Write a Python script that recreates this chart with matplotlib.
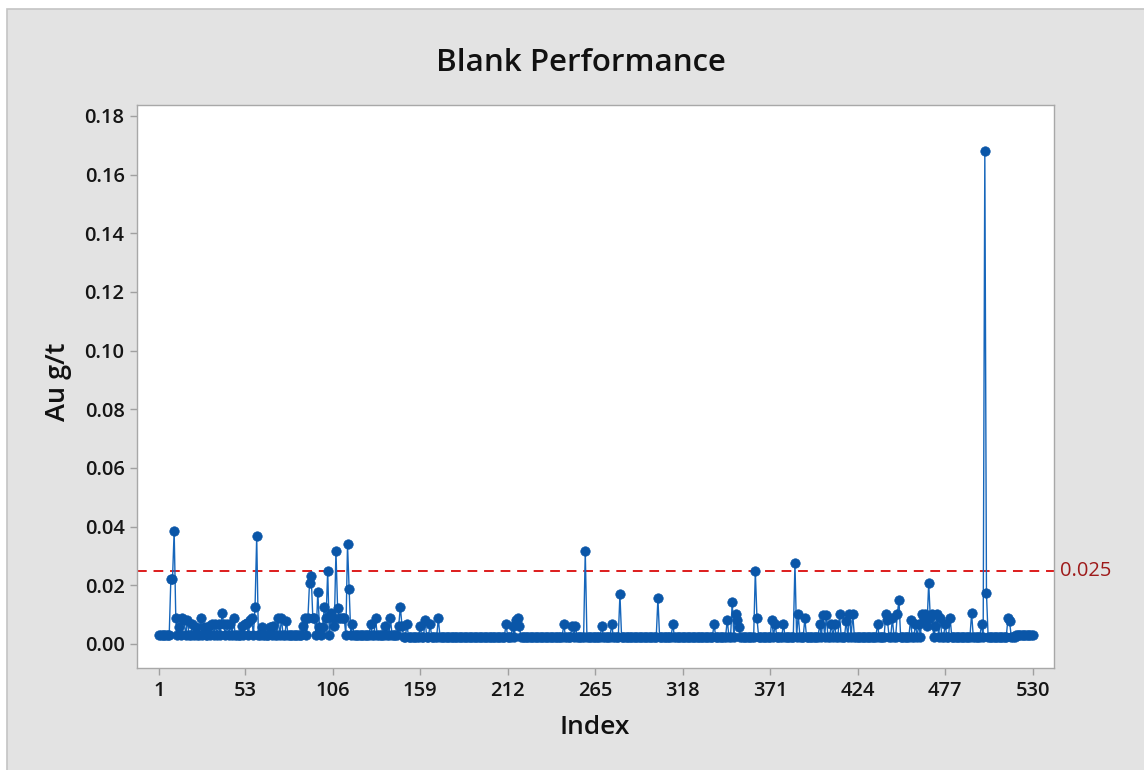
import numpy as np
import matplotlib
matplotlib.use("Agg")
import matplotlib.pyplot as plt
from matplotlib.patches import Rectangle

plt.rcParams['font.family'] = ['Open Sans', 'DejaVu Sans']

# ---- data ----
n_points = 530
# baseline segments: (first index, last index, value)
base_start = [1, 147, 165, 520]
base_end = [146, 164, 519, 530]
base_value = [0.003, 0.0022, 0.0025, 0.003]

spike_idx = [8, 9, 10, 11, 13, 15, 16, 18, 21, 23, 26, 28, 31, 33, 35, 37, 39, 40, 42,
             44, 46, 51, 53, 54, 56, 57, 59, 60, 63, 68, 70, 73, 75, 78, 88, 89, 91,
             92, 93, 94, 95, 97, 98, 100, 101, 102, 103, 105, 106, 107, 108, 109, 110,
             111, 112, 113, 115, 116, 118, 129, 132, 138, 141, 146, 147, 148, 151, 159,
             162, 165, 170,
             211, 215, 217, 218, 219, 246, 251, 253, 259, 269, 275, 280, 303, 312, 337,
             345, 348, 350, 351, 352, 362, 363, 372, 374, 379, 386, 388, 392, 401, 403,
             405, 408, 410, 413, 417, 419, 421, 436, 441, 442, 445, 448, 449, 456, 459,
             461, 463, 464, 465, 466, 467, 468, 469, 471, 472, 474, 477, 480, 493, 499,
             501, 502, 515, 516]
spike_val = [0.022, 0.022, 0.0386, 0.0087, 0.0059, 0.0087, 0.0082, 0.0082, 0.0067, 0.0059,
             0.0087, 0.0059, 0.0061, 0.0067, 0.0067, 0.0067, 0.0105, 0.0067, 0.0067,
             0.0067, 0.0087, 0.0061, 0.0067, 0.0072, 0.0082, 0.0087, 0.0127, 0.0367,
             0.0059, 0.0059, 0.0061, 0.0087, 0.0087, 0.0077, 0.0061, 0.0087, 0.0087,
             0.0209, 0.0231, 0.0087, 0.0087, 0.0178, 0.0059, 0.0059, 0.0127, 0.0087,
             0.0249, 0.0105, 0.0087, 0.0061, 0.0317, 0.0121, 0.0087, 0.0087, 0.0087,
             0.0087, 0.0339, 0.0187, 0.0067, 0.0067, 0.0087, 0.0061, 0.0087, 0.0061,
             0.0127, 0.0061, 0.0067, 0.0061, 0.0082, 0.0067, 0.0087,
             0.0067, 0.0061, 0.0082, 0.0087, 0.0061, 0.0067, 0.0061, 0.0061, 0.0317,
             0.0061, 0.0067, 0.0169, 0.0155, 0.0067, 0.0067, 0.0082, 0.0142, 0.0102,
             0.0082, 0.0059, 0.0249, 0.0087, 0.0082, 0.0067, 0.0067, 0.0277, 0.0102,
             0.0087, 0.0067, 0.0097, 0.0097, 0.0067, 0.0067, 0.0102, 0.0077, 0.0102,
             0.0102, 0.0067, 0.0102, 0.0082, 0.0087, 0.0102, 0.015, 0.0082, 0.0067,
             0.0067, 0.0102, 0.0087, 0.0102, 0.0061, 0.0209, 0.0087, 0.0102, 0.0061,
             0.0102, 0.0087, 0.0067, 0.0087, 0.0105, 0.0067, 0.168, 0.0172, 0.0087,
             0.0077]

x_ticks = [1, 53, 106, 159, 212, 265, 318, 371, 424, 477, 530]
y_ticks = [0.00, 0.02, 0.04, 0.06, 0.08, 0.10, 0.12, 0.14, 0.16, 0.18]
limit_value = 0.025

# ---- build series ----
index = np.arange(1, n_points + 1)
values = np.zeros(n_points)
for s, e, v in zip(base_start, base_end, base_value):
    values[s - 1:e] = v
for i, v in zip(spike_idx, spike_val):
    values[i - 1] = v

# ---- figure ----
W, H = 1144, 770
fig = plt.figure(figsize=(W / 100, H / 100), dpi=100, facecolor='white')
fig.patches.append(Rectangle((7 / W, -0.01), 1.02, (770 - 9) / H + 0.01,
                             transform=fig.transFigure, facecolor='#e3e3e3',
                             edgecolor='#c4c4c4', lw=1.2, zorder=-10))

ax = fig.add_axes([137 / W, 1 - 668 / H, (1054 - 137) / W, (668 - 105) / H])
ax.set_facecolor('white')

blue = '#0a56a8'
ax.plot(index, values, color='#1666bb', lw=1.0, zorder=2)
ax.plot(index, values, ls='none', marker='o', ms=6.8, mfc=blue, mec=blue, mew=0.5, zorder=3)

ax.axhline(limit_value, color='#dd1c1c', ls=(0, (5, 3.5)), lw=1.4, zorder=1)
ax.text(1.006, limit_value, '0.025', transform=ax.get_yaxis_transform(),
        color='#9e1a1a', fontsize=14.5, va='center', ha='left')

ax.set_xlim(-12.5, 542.9)
ax.set_ylim(-0.0082, 0.1837)
ax.set_xticks(x_ticks)
ax.set_yticks(y_ticks)
ax.set_yticklabels([f'{t:.2f}' for t in y_ticks])

for sp in ax.spines.values():
    sp.set_color('#a8a8a8')
    sp.set_linewidth(1.0)

ax.tick_params(axis='both', direction='out', length=5, width=1, color='#a0a0a0',
               labelsize=14.5, labelcolor='#151515', pad=4)
for lab in ax.get_xticklabels() + ax.get_yticklabels():
    lab.set_fontweight('semibold')

fig.text(581 / W, 1 - 63 / H, 'Blank Performance', ha='center', va='center',
         fontsize=22.5, fontweight='semibold', color='#111111')
fig.text(595 / W, 1 - 727 / H, 'Index', ha='center', va='center',
         fontsize=19, fontweight='semibold', color='#111111')
fig.text(58 / W, 1 - 382 / H, 'Au g/t', ha='center', va='center', rotation=90,
         fontsize=19.5, fontweight='semibold', color='#111111')

fig.savefig('out.png', dpi=100, facecolor=fig.get_facecolor())
